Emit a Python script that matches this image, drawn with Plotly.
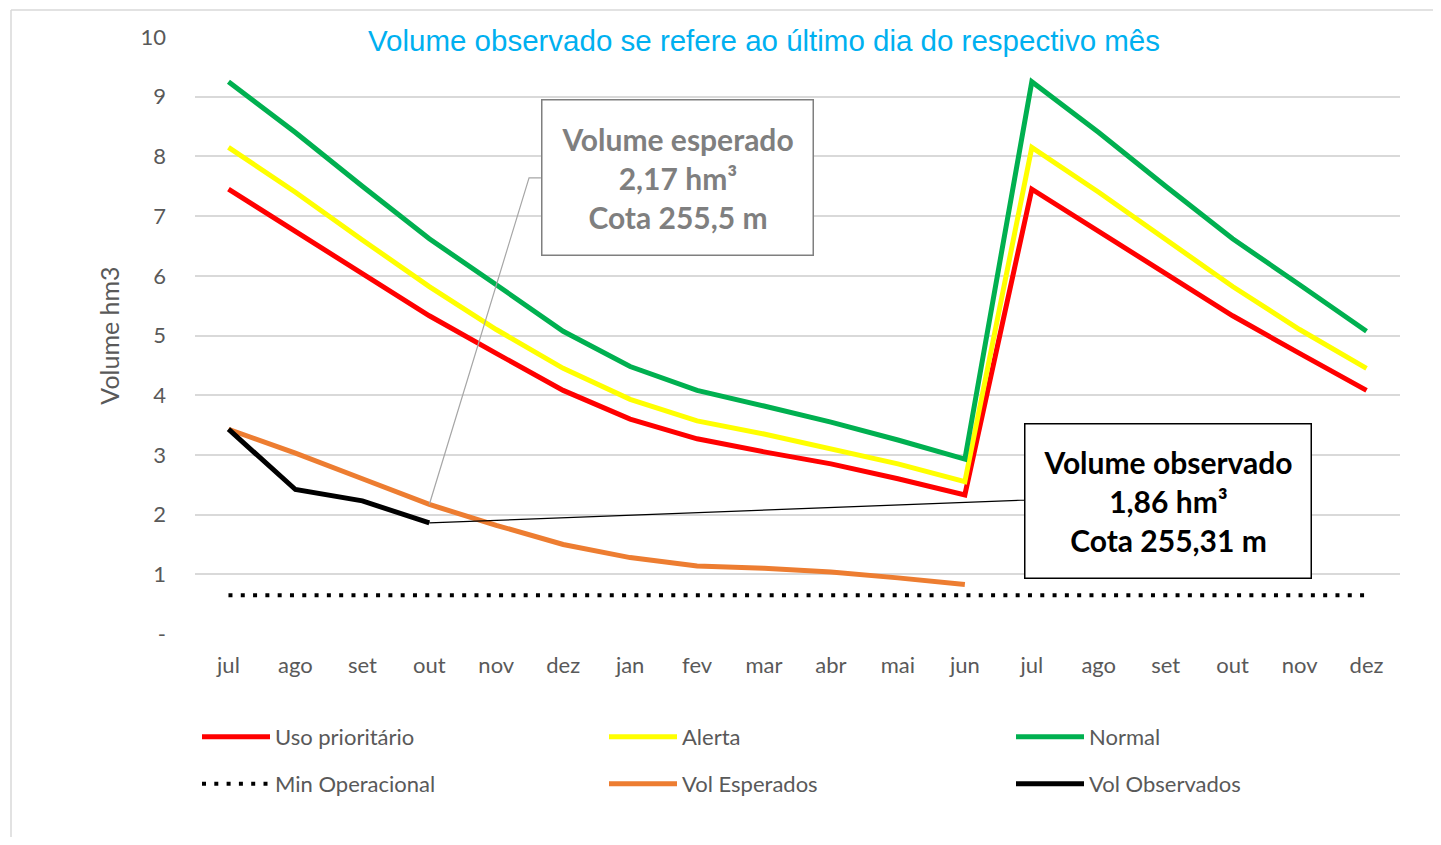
import plotly.graph_objects as go

months = ["jul", "ago", "set", "out", "nov", "dez", "jan", "fev", "mar", "abr", "mai", "jun",
          "jul", "ago", "set", "out", "nov", "dez"]
x_idx = list(range(len(months)))

uso_prioritario = [7.45, 6.75, 6.05, 5.33, 4.70, 4.08, 3.60, 3.27, 3.05, 2.85, 2.60, 2.33,
                   7.45, 6.75, 6.05, 5.33, 4.70, 4.08]
alerta = [8.15, 7.40, 6.60, 5.82, 5.10, 4.45, 3.93, 3.57, 3.35, 3.10, 2.85, 2.55,
          8.15, 7.40, 6.60, 5.82, 5.10, 4.45]
normal = [9.25, 8.40, 7.50, 6.62, 5.85, 5.07, 4.48, 4.08, 3.82, 3.55, 3.25, 2.93,
          9.25, 8.40, 7.50, 6.62, 5.85, 5.07]
min_operacional = [0.65] * 18
vol_esperados = [3.43, 3.03, 2.60, 2.17, 1.82, 1.50, 1.28, 1.14, 1.10, 1.04, 0.94, 0.83]
vol_observados = [3.43, 2.42, 2.23, 1.86]

y_tickvals = [0, 1, 2, 3, 4, 5, 6, 7, 8, 9, 10]
y_ticktext = ["-", "1", "2", "3", "4", "5", "6", "7", "8", "9", "10"]

FONT = "Lato"
GRAY = "#595959"

# figure geometry (page body has an 8px margin)
W, H = 1425, 829
L, R, T, B = 187, 33, 29, 203
PW, PH = W - L - R, H - T - B


def px(xp):
    return (xp - L) / PW


def py(yp):
    return (H - B - yp) / PH


fig = go.Figure()


def add(name, y, color, legend, dash=None, width=5):
    fig.add_trace(go.Scatter(
        x=x_idx[:len(y)], y=y, mode="lines", name=name,
        line=dict(color=color, width=width, dash=dash),
        legend=legend, hoverinfo="skip",
    ))


add("Min Operacional", min_operacional, "#000000", "legend4", dash="4px,8.3px", width=4)
add("Uso prioritário", uso_prioritario, "#FF0000", "legend")
add("Alerta", alerta, "#FFFF00", "legend2")
add("Normal", normal, "#00B050", "legend3")
add("Vol Esperados", vol_esperados, "#ED7D31", "legend5")
add("Vol Observados", vol_observados, "#000000", "legend6")

# leader lines for the callouts
i_out = 3
esp_box_left_x, esp_elbow_x, esp_elbow_y = 4.667, 4.49, 7.64
obs_box_left_x, obs_elbow_x, obs_elbow_y = 11.9, 11.83, 2.24
fig.add_shape(type="path", xref="x", yref="y",
              path=f"M {i_out},{vol_esperados[i_out]} L {esp_elbow_x},{esp_elbow_y} L {esp_box_left_x},{esp_elbow_y}",
              line=dict(color="#A6A6A6", width=1.2))
fig.add_shape(type="path", xref="x", yref="y",
              path=f"M {i_out},{vol_observados[i_out]} L {obs_elbow_x},{obs_elbow_y} L {obs_box_left_x},{obs_elbow_y}",
              line=dict(color="#000000", width=1.2))

# outer chart border (left and top)
fig.add_shape(type="line", xref="paper", yref="paper",
              x0=px(3), x1=px(3), y0=py(2), y1=py(H),
              line=dict(color="#D9D9D9", width=1.5))
fig.add_shape(type="line", xref="paper", yref="paper",
              x0=px(3), x1=px(W), y0=py(2), y1=py(2),
              line=dict(color="#D9D9D9", width=1.5))

# title annotation (white background hides the top gridline behind it)
fig.add_annotation(
    text="Volume observado se refere ao último dia do respectivo mês",
    xref="paper", yref="paper", x=px(756), y=py(32),
    showarrow=False, font=dict(family="Liberation Sans", size=29.5, color="#00B0F0"),
    bgcolor="#FFFFFF", width=830, xanchor="center", yanchor="middle",
)

fig.add_annotation(
    text="<b>Volume esperado<br>2,17 hm³<br>Cota 255,5 m</b>",
    xref="x", yref="y", x=6.70, y=7.64, showarrow=False,
    font=dict(family=FONT, size=30, color="#7F7F7F"),
    bordercolor="#7F7F7F", borderwidth=1.5, borderpad=0, bgcolor="#FFFFFF",
    width=270, height=154, align="center", valign="middle",
)
fig.add_annotation(
    text="<b>Volume observado<br>1,86 hm³<br>Cota 255,31 m</b>",
    xref="x", yref="y", x=14.04, y=2.236, showarrow=False,
    font=dict(family=FONT, size=30, color="#000000"),
    bordercolor="#000000", borderwidth=1.5, borderpad=0, bgcolor="#FFFFFF",
    width=285, height=153, align="center", valign="middle",
)

# six single-item legends laid out as a 3x2 grid
col_x = [px(189), px(596), px(1003)]
row_y = [py(729), py(776)]


def leg(cx, ry):
    return dict(orientation="v", x=cx, y=ry, xanchor="left", yanchor="middle",
                itemwidth=68, font=dict(family=FONT, size=22, color=GRAY),
                bgcolor="rgba(0,0,0,0)", itemclick=False, itemdoubleclick=False)


fig.update_layout(
    width=W, height=H,
    margin=dict(l=L, r=R, t=T, b=B),
    paper_bgcolor="#FFFFFF", plot_bgcolor="#FFFFFF",
    font=dict(family=FONT, size=22, color=GRAY),
    showlegend=True,
    legend=leg(col_x[0], row_y[0]),
    legend2=leg(col_x[1], row_y[0]),
    legend3=leg(col_x[2], row_y[0]),
    legend4=leg(col_x[0], row_y[1]),
    legend5=leg(col_x[1], row_y[1]),
    legend6=leg(col_x[2], row_y[1]),
    xaxis=dict(range=[-0.5, 17.5], tickvals=x_idx, ticktext=months, showgrid=False, zeroline=False,
               showline=False, ticks="", ticklabelstandoff=16, tickfont=dict(family=FONT, size=22, color=GRAY)),
    yaxis=dict(range=[0, 10], tickvals=y_tickvals, ticktext=y_ticktext, showgrid=True,
               gridcolor="#D9D9D9", gridwidth=1.5, zeroline=False, showline=False, ticks="",
               ticklabelstandoff=28, tickfont=dict(family=FONT, size=22, color=GRAY),
               title=dict(text="Volume hm3", font=dict(family=FONT, size=25, color=GRAY), standoff=13)),
)

fig.write_html("out.html")
